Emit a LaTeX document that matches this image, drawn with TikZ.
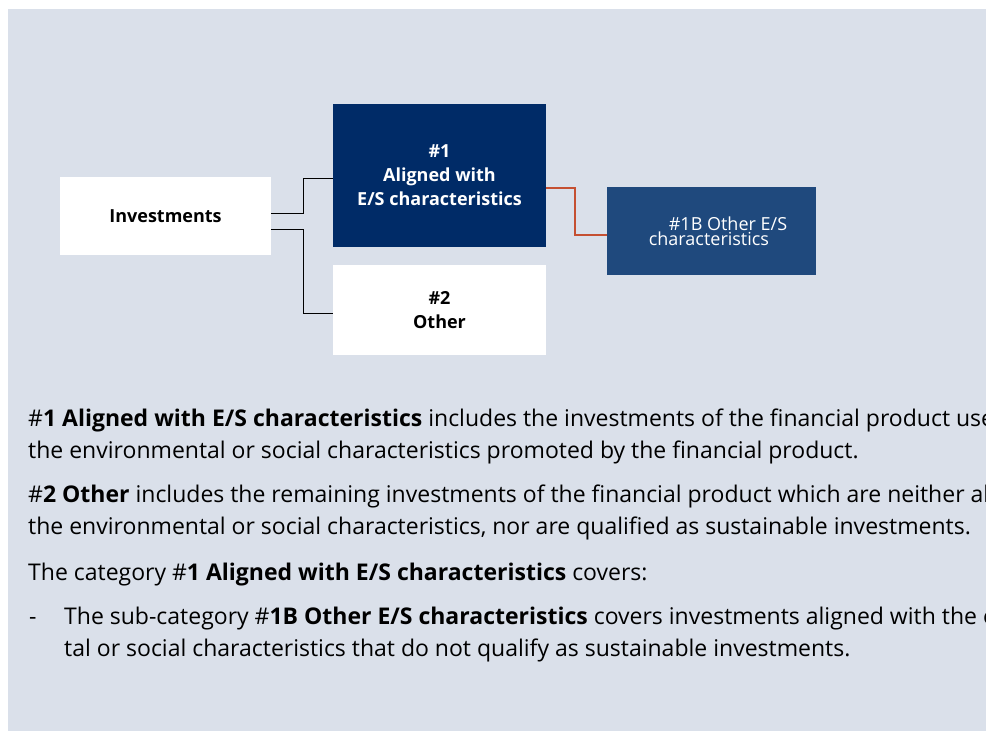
\documentclass[tikz,border=0pt]{standalone}
\usepackage{fontspec}
\setmainfont{Open Sans}
\usetikzlibrary{positioning}

\definecolor{bgcol}{RGB}{218,224,234}
\definecolor{navy}{RGB}{0,43,103}
\definecolor{midblue}{RGB}{31,73,125}
\definecolor{redline}{RGB}{197,80,50}

\tikzset{
  box/.style={inner sep=0pt, align=center, font=\fontsize{18}{24}\selectfont\bfseries},
  para/.style={anchor=base west, inner sep=0pt, font=\fontsize{23}{32}\selectfont},
  link/.style={draw=black, line width=1pt}
}

\begin{document}
\begin{tikzpicture}[x=1pt,y=-1pt]
  \useasboundingbox (0,0) rectangle (986,731);
  \fill[bgcol] (8,9) rectangle (990,735);

  \node[box, fill=white, minimum width=211pt, minimum height=78pt] (1) at (165.5,216) {Investments};
  \node[box, fill=navy, text=white, minimum width=213pt, minimum height=143pt] (2) at (439.5,175.5) {\#1\\Aligned with\\E/S characteristics};
  \node[box, fill=white, minimum width=213pt, minimum height=90pt] (3) at (439.5,310) {\#2\\Other};
  \node[box, fill=midblue, text=white, align=left, font=\fontsize{18}{15}\selectfont, minimum width=209pt, minimum height=88pt] (4) at (711.5,231) {\hspace*{33pt}\#1B Other E/S\\\hspace*{13pt}characteristics};

  \draw[link] ([yshift=3pt]1.east) -- ++(32,0) |- ([yshift=-2.5pt]2.west);
  \draw[link] ([yshift=-13pt]1.east) -- ++(32,0) |- ([yshift=-3pt]3.west);
  \draw[link, draw=redline, line width=1.5pt] ([yshift=-12.5pt]2.east) -- ++(29,0) |- ([yshift=-4pt]4.west);

  \node[para] (5) at (28,426) {\#\textbf{1 Aligned with E/S characteristics} includes the investments of the financial product used};
  \node[para] (6) at (28,458) {the environmental or social characteristics promoted by the financial product.};
  \node[para] (7) at (28,502) {\#\textbf{2 Other} includes the remaining investments of the financial product which are neither aligned};
  \node[para] (8) at (28,534) {the environmental or social characteristics, nor are qualified as sustainable investments.};
  \node[para] (9) at (28,580) {The category \#\textbf{1 Aligned with E/S characteristics} covers:};
  \node[para] (10) at (29,624) {-};
  \node[para] (11) at (64,624) {The sub-category \#\textbf{1B Other E/S characteristics} covers investments aligned with the environmen-};
  \node[para] (12) at (64,656) {tal or social characteristics that do not qualify as sustainable investments.};
\end{tikzpicture}
\end{document}
